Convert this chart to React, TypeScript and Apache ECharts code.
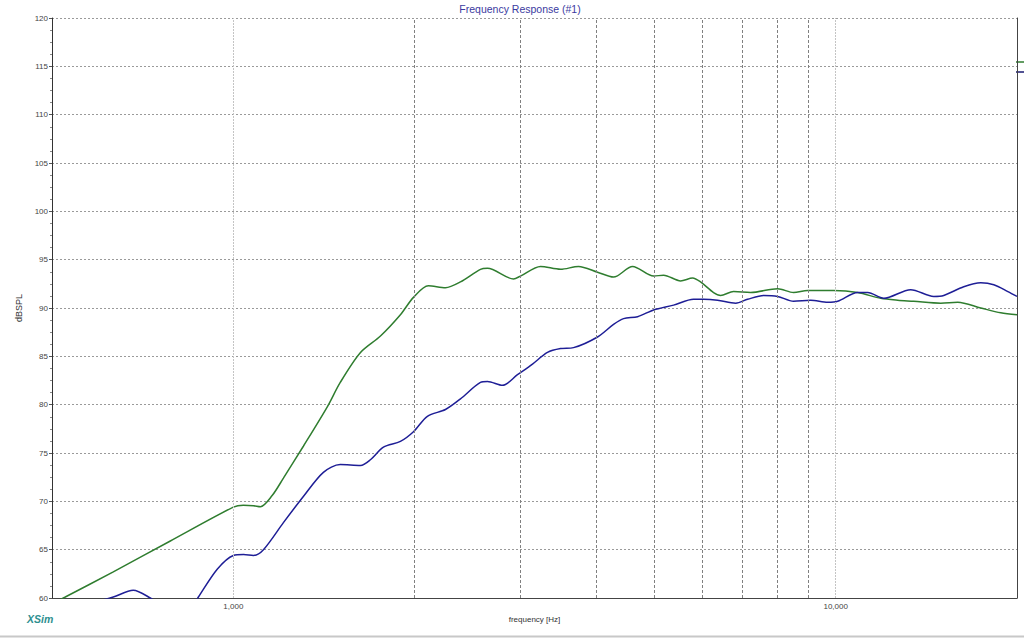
import React, { useEffect, useRef } from "react";
import * as echarts from "echarts";

// Frequencies in Hz, levels in dBSPL
const greenFreq = [500, 526, 632, 786, 1000, 1039, 1080, 1109, 1160, 1211, 1307, 1433, 1505, 1626, 1755, 1894, 1991, 2108, 2250, 2383, 2572, 2642, 2918, 2997, 3236, 3493, 3742, 4024, 4278, 4601, 4986, 5180, 5528, 5787, 5966, 6270, 6441, 6769, 7224, 8010, 8514, 8985, 9924, 10877, 11881, 12677, 13475, 14942, 15946, 17414, 18796, 20000];
const greenLevel = [59.4, 60.1, 62.7, 65.9, 69.4, 69.6, 69.55, 69.45, 70.6, 72.4, 75.7, 79.8, 82.3, 85.4, 87.1, 89.3, 91.1, 92.3, 92.1, 92.7, 94.0, 94.1, 93.0, 93.3, 94.3, 94.0, 94.3, 93.7, 93.2, 94.3, 93.3, 93.4, 92.8, 93.1, 92.7, 91.6, 91.3, 91.7, 91.6, 92.0, 91.6, 91.8, 91.8, 91.6, 91.0, 90.8, 90.7, 90.5, 90.6, 90.0, 89.5, 89.3];

const blueFreq = [500, 560, 632, 682, 728, 790, 840, 875, 941, 1000, 1040, 1080, 1122, 1211, 1307, 1411, 1505, 1626, 1689, 1775, 1894, 1991, 2100, 2250, 2383, 2572, 2642, 2798, 2963, 3138, 3323, 3493, 3671, 4024, 4278, 4445, 4690, 4986, 5382, 5808, 6035, 6368, 6823, 7142, 7593, 8010, 8514, 9090, 9698, 10077, 10877, 11303, 12017, 13322, 14549, 15114, 16316, 17414, 18302, 19315, 20000];
const blueLevel = [58.2, 59.2, 60.1, 60.8, 60.0, 58.6, 58.4, 60.1, 63.0, 64.4, 64.5, 64.4, 65.0, 67.8, 70.5, 73.0, 73.8, 73.7, 74.3, 75.6, 76.2, 77.2, 78.8, 79.5, 80.6, 82.3, 82.4, 82.0, 83.1, 84.2, 85.4, 85.8, 85.9, 87.0, 88.3, 88.9, 89.1, 89.8, 90.3, 90.9, 90.9, 90.8, 90.5, 90.9, 91.3, 91.2, 90.7, 90.8, 90.6, 90.7, 91.6, 91.6, 91.0, 91.9, 91.2, 91.3, 92.2, 92.6, 92.4, 91.7, 91.2];

const decadeLines = [1000, 10000];
const minorLines = [2000, 3000, 4000, 5000, 6000, 7000, 8000, 9000];

const xMin = 500;
const xMax = 20000;
const yMin = 60;
const yMax = 120;
const yStep = 5;

const FONT = '"Liberation Sans", Arial, sans-serif';
const GREEN = "#2f7d2f";
const BLUE = "#1e1e96";

export default function App() {
  const ref = useRef<HTMLDivElement>(null);
  useEffect(() => {
    const chart = echarts.init(ref.current!, null, { renderer: "svg" });
    const green = greenFreq.map((f, i) => [f, greenLevel[i]]);
    const blue = blueFreq.map((f, i) => [f, blueLevel[i]]);
    const markData = [
      ...decadeLines.map((v) => ({ xAxis: v, lineStyle: { color: "#c4c4c4", type: [2, 1], width: 1 } })),
      ...minorLines.map((v) => ({ xAxis: v, lineStyle: { color: "#808080", type: [3, 2], width: 1 } })),
    ];
    chart.setOption({
      animation: false,
      backgroundColor: "#ffffff",
      textStyle: { fontFamily: FONT },
      grid: { left: 52, right: 7, top: 18, bottom: 40, containLabel: false },
      xAxis: {
        type: "log",
        logBase: 10,
        min: xMin,
        max: xMax,
        name: "frequency [Hz]",
        nameLocation: "middle",
        nameGap: 17,
        nameTextStyle: { fontSize: 8, color: "#333", fontFamily: FONT },
        axisLine: { show: true, lineStyle: { color: "#444", width: 1 } },
        axisTick: { show: false },
        splitLine: { show: false },
        minorTick: { show: false },
        axisLabel: {
          showMinLabel: false,
          showMaxLabel: false,
          fontSize: 8,
          color: "#444",
          margin: 4,
          formatter: (v: number) => Math.round(v).toLocaleString("en-US"),
        },
      },
      yAxis: [
        {
          type: "value",
          min: yMin,
          max: yMax,
          interval: yStep,
          name: "dBSPL",
          nameLocation: "middle",
          nameGap: 23,
          nameTextStyle: { fontSize: 9, color: "#333", fontFamily: FONT },
          axisLine: { show: true, lineStyle: { color: "#333", width: 1 } },
          axisTick: { show: true, length: 3, lineStyle: { color: "#555" } },
          minorTick: { show: true, splitNumber: 4, length: 2, lineStyle: { color: "#888" } },
          axisLabel: { fontSize: 8, color: "#444", margin: 4 },
          splitLine: { show: true, lineStyle: { color: "#9a9a9a", type: [2, 2], width: 1 } },
        },
        {
          type: "value",
          position: "right",
          min: yMin,
          max: yMax,
          interval: yStep,
          axisLine: { show: true, lineStyle: { color: "#444", width: 1 } },
          axisTick: { show: false },
          axisLabel: { show: false },
          splitLine: { show: false },
        },
      ],
      series: [
        {
          type: "line",
          name: "green",
          data: green,
          smooth: 0.3,
          symbol: "none",
          clip: true,
          lineStyle: { color: GREEN, width: 1.5 },
          markLine: {
            silent: true,
            symbol: "none",
            label: { show: false },
            animation: false,
            data: markData,
          },
          z: 3,
        },
        {
          type: "line",
          name: "blue",
          data: blue,
          smooth: 0.3,
          symbol: "none",
          clip: true,
          lineStyle: { color: BLUE, width: 1.5 },
          z: 4,
        },
      ],
      graphic: [
        {
          type: "text",
          x: 520,
          y: 9,
          style: { text: "Frequency Response (#1)", fill: "#3a3aa0", font: `10.5px ${FONT}`, align: "center", verticalAlign: "middle" },
        },
        {
          type: "text",
          x: 27,
          y: 619,
          style: { text: "XSim", fill: "#2e8f8f", font: `italic bold 10.5px ${FONT}`, align: "left", verticalAlign: "middle" },
        },
        { type: "line", shape: { x1: 1016, y1: 62, x2: 1024, y2: 62 }, style: { stroke: GREEN, lineWidth: 1.5 } },
        { type: "line", shape: { x1: 1016, y1: 72, x2: 1024, y2: 72 }, style: { stroke: "#1a1a70", lineWidth: 1.5 } },
        { type: "line", shape: { x1: 0, y1: 636.5, x2: 1024, y2: 636.5 }, style: { stroke: "#c8c8c8", lineWidth: 2 } },
      ],
    });
    return () => chart.dispose();
  }, []);
  return (
    <div
      ref={ref}
      style={{ position: "fixed", left: 0, top: 0, width: 1024, height: 638, background: "#fff" }}
    />
  );
}
